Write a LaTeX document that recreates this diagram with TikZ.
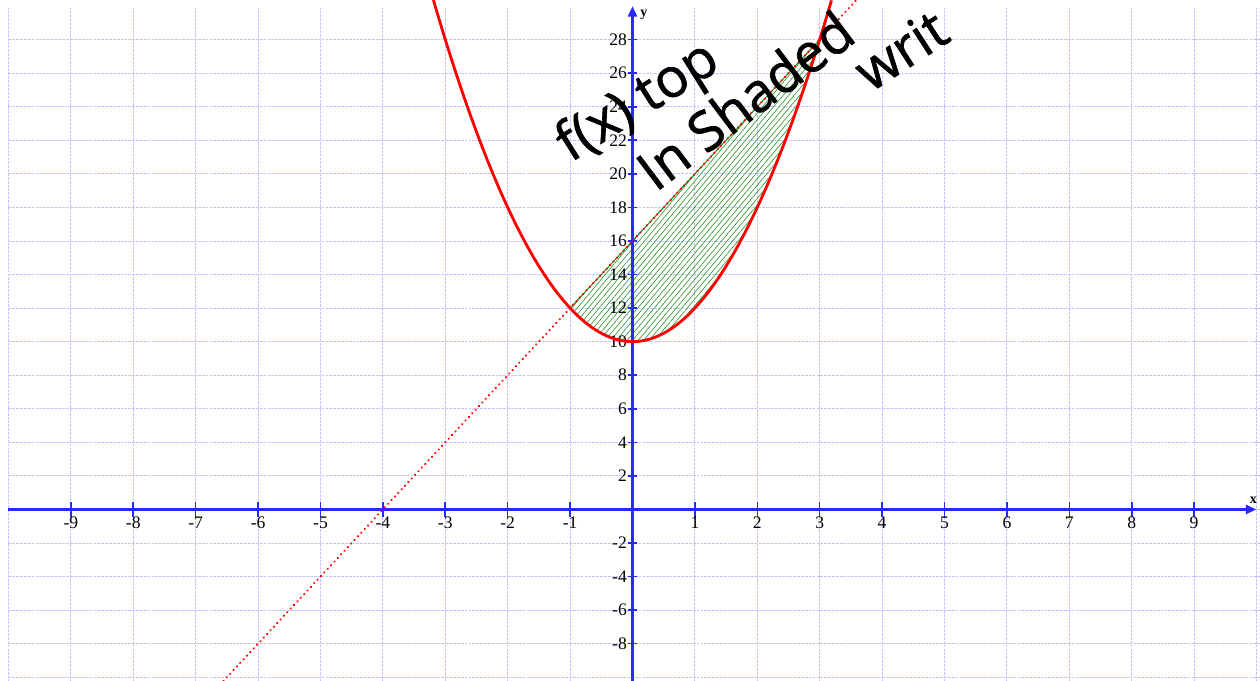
\documentclass[tikz,border=0pt]{standalone}
\usepackage{fontspec}
\setmainfont{Liberation Serif}
\newfontfamily\handfont[FakeBold=1.2]{Open Sans}
\usepackage{tikz}
\usetikzlibrary{arrows.meta,patterns.meta}
\definecolor{axisblue}{RGB}{40,40,255}
\definecolor{gridblue}{RGB}{195,195,255}
\definecolor{hatchgreen}{RGB}{40,150,40}

\begin{document}
\begin{tikzpicture}[x=1.248cm,y=0.3356cm,
  gridline/.style={gridblue,line width=0.5pt,dash pattern=on 1.6pt off 0.6pt},
  axis/.style={axisblue,line width=1.6pt,-{Triangle[length=6pt,width=5pt]}},
  tickmark/.style={axisblue,line width=0.9pt},
  ticklabel/.style={font=\fontsize{10}{12}\selectfont,inner sep=0pt},
  axislabel/.style={font=\bfseries\fontsize{8}{9}\selectfont,inner sep=0pt},
  curve/.style={red,line width=1.6pt},
  hand/.style={font=\handfont\fontsize{31}{37}\selectfont,inner sep=0pt}]
\fill[white] (-10.136,-10.22) rectangle (10.056,30.36);
\useasboundingbox (-10.136,-10.22) rectangle (10.056,30.36);
% grid
\draw[gridline] (-10,-10.3) grid[xstep=1,ystep=2] (10.1,29.9);
% points
\coordinate (P) at (-1,12);
\coordinate (Q) at (3,28);
\coordinate (lineA) at (-6.555,-10.22);
\coordinate (lineB) at (3.59,30.36);
% shaded area
\fill[pattern={Lines[angle=50,distance=2.4pt,line width=0.35pt]},pattern color=hatchgreen]
  (P) -- (Q) -- plot[domain=3:-1,samples=60] ({\x},{2*\x*\x+10}) -- cycle;
\draw[hatchgreen,line width=0.6pt] (P) -- (Q);
% axes
\draw[axis] (-10,0) -- (10,0);
\draw[axis] (0,-10.22) -- (0,30);
\node[axislabel,anchor=south] (xlab) at (9.95,0.35) {x};
\node[axislabel,anchor=west] (ylab) at (0.12,29.5) {y};
\foreach \i in {-9,...,-1,1,2,...,9}{
  \draw[tickmark] (\i,-0.45) -- (\i,0.45);
  \node[ticklabel,anchor=north] (xt\i) at (\i,-0.42) {\i};
}
\foreach \j in {-8,-6,...,-2,2,4,...,28}{
  \draw[tickmark] (-0.08,\j) -- (0.08,\j);
  \node[ticklabel,anchor=east] (yt\j) at (-0.085,\j) {\j};
}
% curves
\draw[curve] plot[domain=-3.19:3.19,samples=120] ({\x},{2*\x*\x+10});
\draw[red,line width=1.4pt,line cap=round,dash pattern=on 0.01pt off 2.8pt] (lineA) -- (lineB);
% handwriting
\node[hand,rotate=32] (note1) at (0.1,24.2) {f(x) top};
\node[hand,rotate=37] (note2) at (1.8,24.4) {In Shaded};
\node[hand,rotate=33] (note3) at (4.3,27.4) {writ};
\end{tikzpicture}
\end{document}
